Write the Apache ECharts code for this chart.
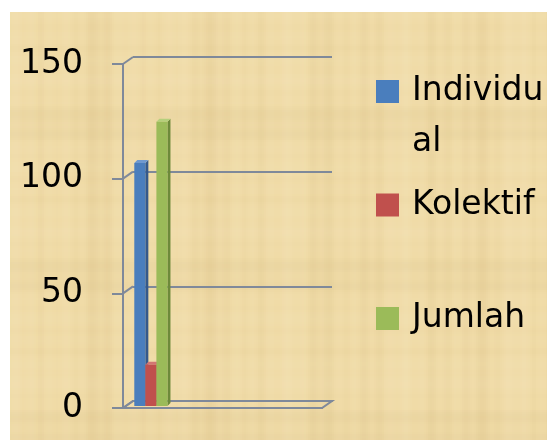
<!DOCTYPE html>
<html>
<head>
<meta charset="utf-8">
<script src="https://cdn.jsdelivr.net/npm/echarts@6/dist/echarts.min.js"></script>
<style>
  html, body { margin: 0; padding: 0; background: #ffffff; }
  #chart { width: 547px; height: 440px; }
</style>
</head>
<body>
<div id="chart"></div>
<script>
// ---- data ----
const categories = ['1', '2', '3', '4'];
const individual = [106];
const kolektif = [18];
const jumlah = [124];
const yTicks = [0, 50, 100, 150];
const seriesNames = ['Individual', 'Kolektif', 'Jumlah'];

// ---- styling ----
const FONT = 'DejaVu Sans';
const LINE = '#7f899a';
const DX = 10, DY = -7;          // depth offset of the back wall
const BAR_DEPTH = 3;
const palette = [
  { front: '#4a7ebd', side: '#35598a', top: '#6f99cf' },
  { front: '#c0504d', side: '#8d3a38', top: '#d27673' },
  { front: '#9bbb59', side: '#6d8a3a', top: '#b5d07c' }
];

// papyrus-like background texture
function makeTexture(w, h) {
  const c = document.createElement('canvas');
  c.width = w; c.height = h;
  const g = c.getContext('2d');
  g.fillStyle = '#f0dba7';
  g.fillRect(0, 0, w, h);
  for (let x = 0; x < w; x += 2) {
    const s = Math.sin(x * 0.37) + Math.sin(x * 0.113 + 1.3) + Math.sin(x * 0.051 + 0.4);
    const a = Math.abs(s) * 0.03;
    g.fillStyle = s > 0 ? `rgba(255,246,220,${a * 1.4})` : `rgba(170,135,70,${a})`;
    g.fillRect(x, 0, 2, h);
  }
  for (let y = 0; y < h; y += 2) {
    const s = Math.sin(y * 0.29 + 0.7) + Math.sin(y * 0.083 + 2.1) + Math.sin(y * 0.041);
    const a = Math.abs(s) * 0.022;
    g.fillStyle = s > 0 ? `rgba(255,246,220,${a * 1.4})` : `rgba(165,135,70,${a})`;
    g.fillRect(0, y, w, 2);
  }
  return c;
}

const chart = echarts.init(document.getElementById('chart'), null, { renderer: 'canvas' });

function barSeries(k, values) {
  const col = palette[k];
  return {
    name: seriesNames[k],
    type: 'custom',
    xAxisIndex: 2,
    yAxisIndex: 2,
    itemStyle: { color: col.front },
    z: 5 + k,
    silent: true,
    data: values.map((v, i) => [i, v]),
    renderItem(params, api) {
      const base = api.coord([api.value(0), 0]);
      const top = api.coord([api.value(0), api.value(1)]);
      const band = api.size([1, 0])[0];
      const w = band / 4.5;
      const x = base[0] - 1.5 * w + k * w;
      const d = BAR_DEPTH;
      const y0 = base[1], y1 = top[1];
      return {
        type: 'group',
        children: [
          { type: 'polygon', shape: { points: [[x + w, y1], [x + w + d, y1 - d], [x + w + d, y0 - d], [x + w, y0]] },
            style: { fill: col.side } },
          { type: 'polygon', shape: { points: [[x, y1], [x + d, y1 - d], [x + w + d, y1 - d], [x + w, y1]] },
            style: { fill: col.top } },
          { type: 'rect', shape: { x: x, y: y1, width: w, height: y0 - y1 },
            style: { fill: col.front } }
        ]
      };
    }
  };
}

const option = {
  animation: false,
  graphic: [{
    type: 'image', left: 10, top: 12, z: -100, silent: true,
    style: { image: makeTexture(537, 428), width: 537, height: 428 }
  }],
  legend: {
    orient: 'vertical',
    left: 376,
    top: 15,
    padding: 0,
    itemWidth: 23,
    itemHeight: 23,
    itemGap: 11.5,
    icon: 'rect',
    data: seriesNames,
    formatter: name => ({ Individual: '\nIndividu\nal', Kolektif: 'Kolektif', Jumlah: '\nJumlah\n ' })[name],
    textStyle: { fontFamily: FONT, fontSize: 33, color: '#000', lineHeight: 51, padding: [0, 0, 0, 8] }
  },
  grid: [
    { left: 123, top: 64, width: 199, height: 344 },            // front plane
    { left: 123 + DX, top: 64 + DY, width: 199, height: 344 },  // back wall
    { left: 126, top: 62, width: 199, height: 344 }             // bars
  ],
  xAxis: [
    { gridIndex: 0, type: 'value', min: 0, max: 1, axisLine: { show: true, lineStyle: { color: LINE, width: 2 } },
      axisTick: { show: false }, axisLabel: { show: false }, splitLine: { show: false } },
    { gridIndex: 1, type: 'value', min: 0, max: 1, axisLine: { show: true, lineStyle: { color: LINE, width: 2 } },
      axisTick: { show: false }, axisLabel: { show: false }, splitLine: { show: false } },
    { gridIndex: 2, type: 'category', data: categories, show: false }
  ],
  yAxis: [
    { gridIndex: 0, type: 'value', min: 0, max: 150, interval: 50,
      axisLine: { show: true, lineStyle: { color: LINE, width: 2 } },
      axisTick: { show: true, length: 11, lineStyle: { color: LINE, width: 2 } },
      axisLabel: { fontFamily: FONT, fontSize: 33, color: '#000', margin: 40,
        formatter: v => yTicks.includes(v) ? String(v) : '' },
      splitLine: { show: false } },
    { gridIndex: 1, type: 'value', min: 0, max: 150, interval: 50,
      axisLine: { show: false }, axisTick: { show: false }, axisLabel: { show: false },
      splitLine: { show: true, lineStyle: { color: LINE, width: 2 } } },
    { gridIndex: 2, type: 'value', min: 0, max: 150, show: false }
  ],
  series: [
    {
      // diagonal connectors from the front axis to the back wall
      type: 'custom', xAxisIndex: 0, yAxisIndex: 0, silent: true, z: 1,
      data: yTicks.map(v => [0, v]),
      renderItem(params, api) {
        const p = api.coord([api.value(0), api.value(1)]);
        return { type: 'line', shape: { x1: p[0], y1: p[1], x2: p[0] + DX, y2: p[1] + DY },
          style: { stroke: LINE, lineWidth: 2 } };
      }
    },
    {
      // floor outline
      type: 'custom', xAxisIndex: 0, yAxisIndex: 0, silent: true, z: 1,
      data: [[0, 0]],
      renderItem(params, api) {
        const a = api.coord([0, 0]);
        const b = api.coord([1, 0]);
        return { type: 'polygon',
          shape: { points: [a, b, [b[0] + DX, b[1] + DY], [a[0] + DX, a[1] + DY]] },
          style: { fill: 'rgba(0,0,0,0)', stroke: LINE, lineWidth: 2 } };
      }
    },
    barSeries(0, individual),
    barSeries(1, kolektif),
    barSeries(2, jumlah)
  ]
};

chart.setOption(option);
</script>
</body>
</html>
